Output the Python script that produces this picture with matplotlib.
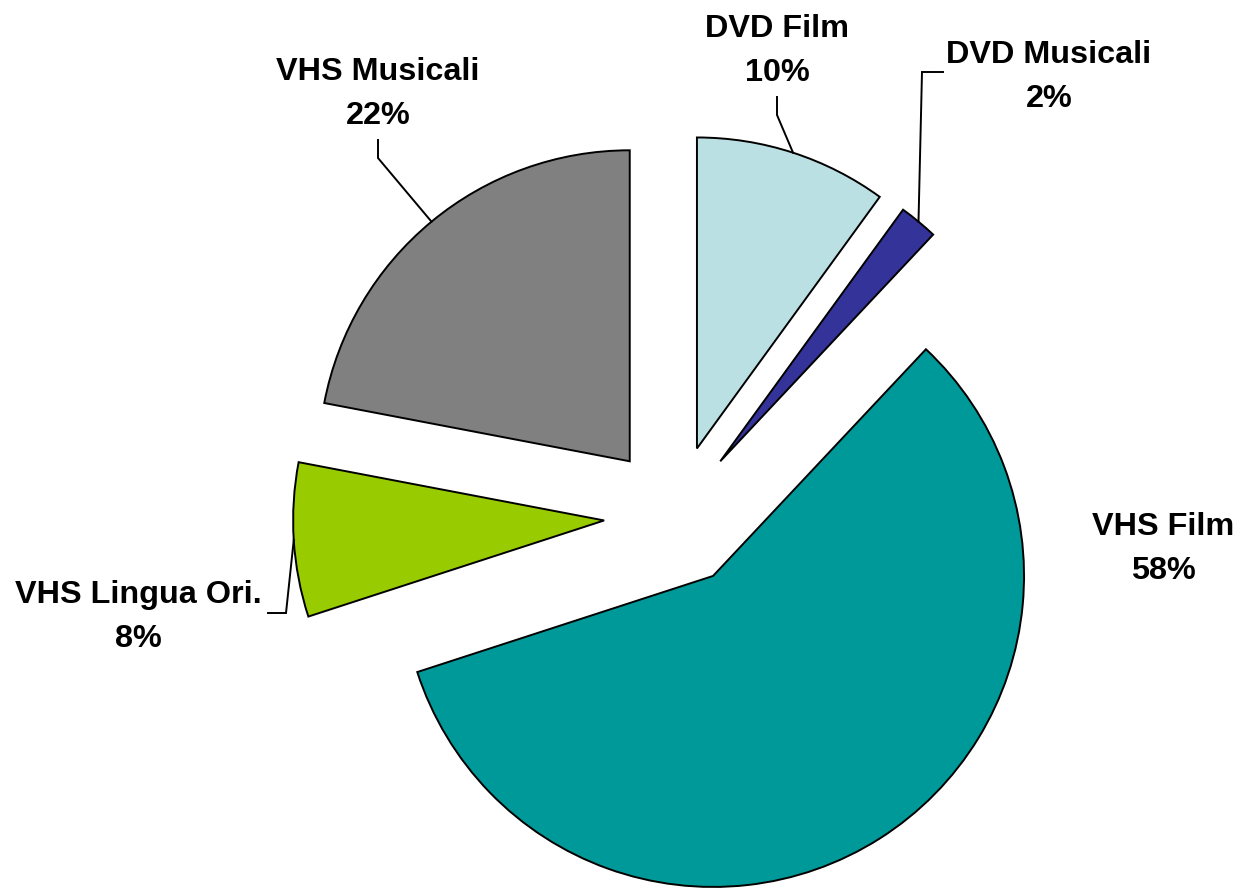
import numpy as np
import matplotlib
matplotlib.use("Agg")
import matplotlib.pyplot as plt

# Dati (fette in senso orario partendo dall'alto)
categorie = ["DVD Film", "DVD Musicali", "VHS Film", "VHS Lingua Ori.", "VHS Musicali"]
valori = [10, 2, 58, 8, 22]
colori = ["#BBE0E3", "#333399", "#009999", "#99CC00", "#808080"]

W, H = 1238, 890

# Layout in pixel (dall'alto dell'immagine)
centro_px = (675, 516)
raggio = 311
esplosione = 71
# baseline della prima riga di ogni etichetta
pos_etichette = [(777, 37), (1049, 63), (1163, 535), (138, 603), (378, 80)]
# linee guida: punto vicino al testo, gomito (None = nessuna linea)
guide = [
    ((777, 97), (777, 115)),
    ((943, 72), (922, 72)),
    None,
    ((268, 613), (286, 613)),
    ((378, 140), (378, 158)),
]


def py(y):
    return H - y


fig = plt.figure(figsize=(W / 100, H / 100), dpi=100)
ax = fig.add_axes([0, 0, 1, 1])

wedges, _ = ax.pie(
    valori,
    explode=[esplosione] * len(valori),
    colors=colori,
    startangle=90,
    counterclock=False,
    radius=raggio,
    center=(centro_px[0], py(centro_px[1])),
    wedgeprops=dict(edgecolor="black", linewidth=1.4),
)
ax.set_xlim(0, W)
ax.set_ylim(0, H)
ax.set_aspect("equal")
ax.axis("off")

font = dict(family="Liberation Sans", weight="bold", size=23.3)

for w, nome, val, (lx, ly), g in zip(wedges, categorie, valori, pos_etichette, guide):
    ax.text(lx, py(ly), nome, ha="center", va="baseline", **font)
    ax.text(lx, py(ly + 44), f"{val}%", ha="center", va="baseline", **font)
    if g is None:
        continue
    # punto sull'arco alla meta' della fetta
    tm = np.deg2rad((w.theta1 + w.theta2) / 2)
    cx, cy = w.center
    ex, ey = cx + w.r * np.cos(tm), cy + w.r * np.sin(tm)
    (sx, sy), (gx, gy) = g
    ax.plot([sx, gx, ex], [py(sy), py(gy), ey], color="black", lw=1.4,
            solid_joinstyle="miter")

fig.savefig("out.png", dpi=100)
